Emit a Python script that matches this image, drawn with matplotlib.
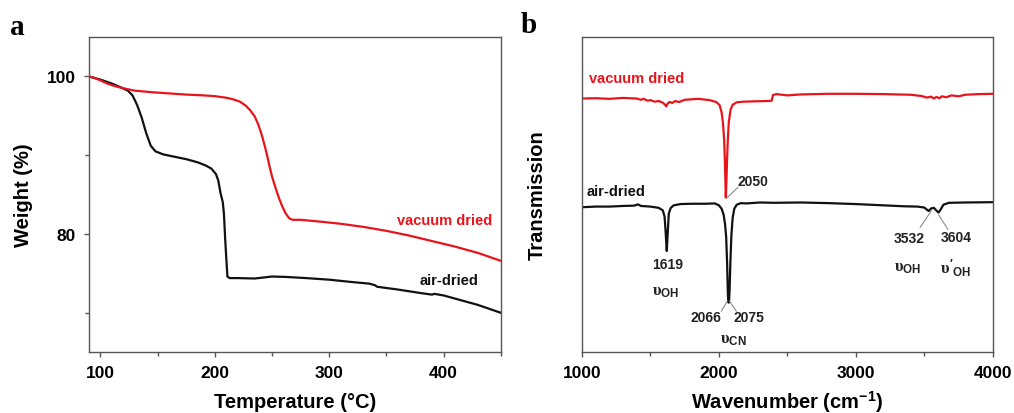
import matplotlib

matplotlib.use("Agg")
import matplotlib.pyplot as plt
from matplotlib.ticker import MultipleLocator, NullFormatter, NullLocator

plt.rcParams["font.family"] = ["Liberation Sans", "DejaVu Sans"]
plt.rcParams["font.weight"] = "bold"
plt.rcParams["mathtext.fontset"] = "custom"
plt.rcParams["mathtext.rm"] = "Liberation Sans:bold"
plt.rcParams["mathtext.bf"] = "Liberation Sans:bold"
plt.rcParams["mathtext.it"] = "Liberation Serif"

RED = "#e8141c"
BLACK = "#111111"
FRAME = "#555555"
LEADER = "#8c8c8c"

# --- TGA curves (temperature in C, weight in %) ---
air_temp = [90, 100, 110, 118, 124, 128, 132, 136, 140, 144, 148, 155, 165, 175,
            185, 192, 197, 201, 203, 205, 207, 208, 209, 210, 211, 213, 220, 235,
            250, 262, 280, 300, 320, 335, 340, 342, 360, 380, 390, 392, 400, 415,
            430, 436, 440, 450]
air_weight = [100.0, 99.6, 99.1, 98.6, 98.2, 97.6, 96.4, 94.8, 92.8, 91.2, 90.5,
              90.1, 89.8, 89.5, 89.1, 88.7, 88.3, 87.6, 86.8, 85.2, 84.0, 82.5,
              79.5, 77.0, 74.6, 74.4, 74.4, 74.35, 74.6, 74.55, 74.4, 74.2, 73.9,
              73.7, 73.5, 73.3, 72.95, 72.5, 72.3, 72.4, 72.2, 71.6, 71.0, 70.7,
              70.5, 70.0]

vac_temp = [90, 95, 100, 106, 112, 120, 130, 145, 160, 175, 190, 200, 210, 216,
            222, 227, 231, 235, 238, 241, 244, 246, 248, 250, 253, 256, 259, 262,
            265, 268, 275, 290, 310, 330, 350, 370, 390, 410, 430, 450]
vac_weight = [100.0, 99.8, 99.5, 99.1, 98.8, 98.5, 98.2, 98.0, 97.85, 97.7, 97.6,
              97.5, 97.3, 97.1, 96.8, 96.3, 95.7, 94.9, 93.9, 92.6, 91.0, 89.8,
              88.5, 87.3, 85.9, 84.6, 83.5, 82.6, 82.0, 81.8, 81.8, 81.6, 81.3,
              80.9, 80.4, 79.8, 79.1, 78.4, 77.6, 76.6]

# --- FTIR spectra (wavenumber in cm-1, transmission in arbitrary units) ---
vac_wn = [1000, 1100, 1200, 1300, 1400, 1430, 1450, 1480, 1500, 1530, 1560, 1590,
          1605, 1615, 1625, 1640, 1660, 1680, 1710, 1750, 1850, 1930, 1980, 2005,
          2020, 2030, 2038, 2044, 2048, 2050, 2053, 2058, 2064, 2072, 2085, 2100,
          2130, 2180, 2250, 2350, 2385, 2395, 2420, 2500, 2600, 2800, 3000, 3200,
          3400, 3480, 3520, 3550, 3570, 3590, 3610, 3630, 3660, 3700, 3750, 3800,
          3900, 4000]
vac_trans = [80.5, 80.6, 80.4, 80.7, 80.5, 80.1, 80.4, 79.8, 80.0, 79.5, 79.7, 79.2,
             78.6, 78.0, 78.9, 79.4, 79.1, 79.7, 79.4, 80.1, 80.4, 80.0, 79.4, 78.4,
             76.0, 72.5, 67.5, 60.0, 53.0, 49.1, 52.0, 59.0, 66.5, 73.0, 77.0, 78.5,
             79.3, 79.5, 79.6, 79.7, 79.8, 81.6, 81.9, 81.5, 81.8, 82.0, 82.0, 81.9,
             81.7, 81.3, 80.8, 81.1, 80.5, 81.0, 80.6, 81.2, 80.9, 81.5, 81.2, 81.7,
             81.9, 82.0]

air_wn = [1000, 1100, 1200, 1300, 1380, 1410, 1430, 1500, 1560, 1590, 1603, 1611,
          1619, 1626, 1634, 1648, 1670, 1720, 1800, 1900, 1970, 2000, 2020, 2035,
          2045, 2053, 2060, 2065, 2068, 2071, 2074, 2078, 2084, 2091, 2100, 2112,
          2130, 2160, 2200, 2300, 2400, 2600, 2800, 3000, 3200, 3350, 3450, 3500,
          3520, 3532, 3550, 3570, 3590, 3604, 3620, 3640, 3680, 3800, 4000]
air_trans = [46.0, 46.2, 46.2, 46.4, 46.5, 46.9, 46.4, 46.2, 45.8, 45.0, 43.0, 38.0,
             32.1, 38.0, 44.0, 45.8, 46.6, 47.0, 47.1, 47.1, 47.2, 46.6, 45.5, 43.5,
             40.5, 36.5, 28.0, 19.0, 16.0, 15.7, 16.2, 20.0, 29.0, 37.0, 42.5, 45.5,
             46.8, 47.3, 47.2, 47.5, 47.4, 47.5, 47.3, 47.0, 46.6, 46.3, 46.2, 45.9,
             45.2, 44.8, 45.6, 45.8, 44.9, 44.3, 45.3, 46.8, 47.4, 47.5, 47.6]

# peak labels: (text, x, y) and leader lines: (x0, y0, x1, y1)
peak_labels = [("2050", 2249, 54.3), ("1619", 1626, 28.1), ("2066", 1908, 11.1),
               ("2075", 2217, 11.1), ("3532", 3392, 36.1), ("3604", 3733, 36.4)]
mode_labels = [(r"$\upsilon_{\mathrm{OH}}$", 1612, 19.4),
               (r"$\upsilon_{\mathrm{CN}}$", 2107, 4.0),
               (r"$\upsilon_{\mathrm{OH}}$", 3378, 26.9),
               (r"$\upsilon'_{\mathrm{OH}}$", 3728, 26.9)]
leaders = [(2054, 48.8, 2139, 52.3), (2061, 16.2, 2018, 13.0),
           (2078, 16.2, 2127, 13.0), (3551, 44.8, 3470, 39.6),
           (3606, 43.5, 3672, 39.0)]


def style_frame(ax):
    for sp in ax.spines.values():
        sp.set_color(FRAME)
        sp.set_linewidth(1.0)
    ax.tick_params(which="both", direction="out", color=FRAME, width=1.0,
                   labelsize=12.5, pad=6)
    ax.tick_params(which="major", length=3.5)
    ax.tick_params(which="minor", length=3)
    for lbl in ax.get_xticklabels() + ax.get_yticklabels():
        lbl.set_fontweight("bold")


fig = plt.figure(figsize=(10.14, 4.14), dpi=100)
ax_a = fig.add_axes([0.0878, 0.147, 0.406, 0.761])
ax_b = fig.add_axes([0.574, 0.147, 0.405, 0.761])

# panel a: TGA
ax_a.plot(air_temp, air_weight, color=BLACK, lw=1.6)
ax_a.plot(vac_temp, vac_weight, color=RED, lw=1.6)
ax_a.set_xlim(90, 450)
ax_a.set_ylim(65, 105)
ax_a.xaxis.set_major_locator(MultipleLocator(100))
ax_a.xaxis.set_minor_locator(MultipleLocator(50))
ax_a.yaxis.set_major_locator(MultipleLocator(20))
ax_a.yaxis.set_minor_locator(MultipleLocator(10))
style_frame(ax_a)
ax_a.set_xlabel("Temperature (\u00b0C)", fontsize=14.5, fontweight="bold")
ax_a.set_ylabel("Weight (%)", fontsize=14.5, fontweight="bold")
ax_a.xaxis.set_label_coords(0.5, -0.125)
ax_a.yaxis.set_label_coords(-0.135, 0.5)
ax_a.text(443, 81.8, "vacuum dried", color=RED, fontsize=10.5,
          fontweight="bold", ha="right", va="center")
ax_a.text(431, 74.2, "air-dried", color=BLACK, fontsize=10.5,
          fontweight="bold", ha="right", va="center")

# panel b: FTIR
ax_b.plot(vac_wn, vac_trans, color=RED, lw=1.6)
ax_b.plot(air_wn, air_trans, color=BLACK, lw=1.6)
ax_b.set_xlim(1000, 4000)
ax_b.set_ylim(0, 100)
ax_b.xaxis.set_major_locator(MultipleLocator(1000))
ax_b.xaxis.set_minor_locator(MultipleLocator(500))
ax_b.yaxis.set_major_locator(NullLocator())
ax_b.yaxis.set_major_formatter(NullFormatter())
style_frame(ax_b)
ax_b.set_xlabel(r"Wavenumber (cm$^{\mathbf{-1}}$)", fontsize=14.5,
                fontweight="bold")
ax_b.set_ylabel("Transmission", fontsize=14.5, fontweight="bold")
ax_b.xaxis.set_label_coords(0.5, -0.115)
ax_b.yaxis.set_label_coords(-0.085, 0.5)
ax_b.text(1049, 87.1, "vacuum dried", color=RED, fontsize=10.5,
          fontweight="bold", ha="left", va="center")
ax_b.text(1034, 51.1, "air-dried", color=BLACK, fontsize=10.5,
          fontweight="bold", ha="left", va="center")

for x0, y0, x1, y1 in leaders:
    ax_b.plot([x0, x1], [y0, y1], color=LEADER, lw=0.8)
for txt, x, y in peak_labels:
    ax_b.text(x, y, txt, fontsize=10, fontweight="bold", ha="center",
              va="center", color="#222222")
for txt, x, y in mode_labels:
    ax_b.text(x, y, txt, fontsize=12, ha="center", va="center",
              color="#222222")

# panel letters
fig.text(0.010, 0.915, "a", fontsize=21, fontweight="bold",
         family="Liberation Serif", va="baseline")
fig.text(0.513, 0.920, "b", fontsize=21, fontweight="bold",
         family="Liberation Serif", va="baseline")

fig.savefig("out.png", dpi=100)
